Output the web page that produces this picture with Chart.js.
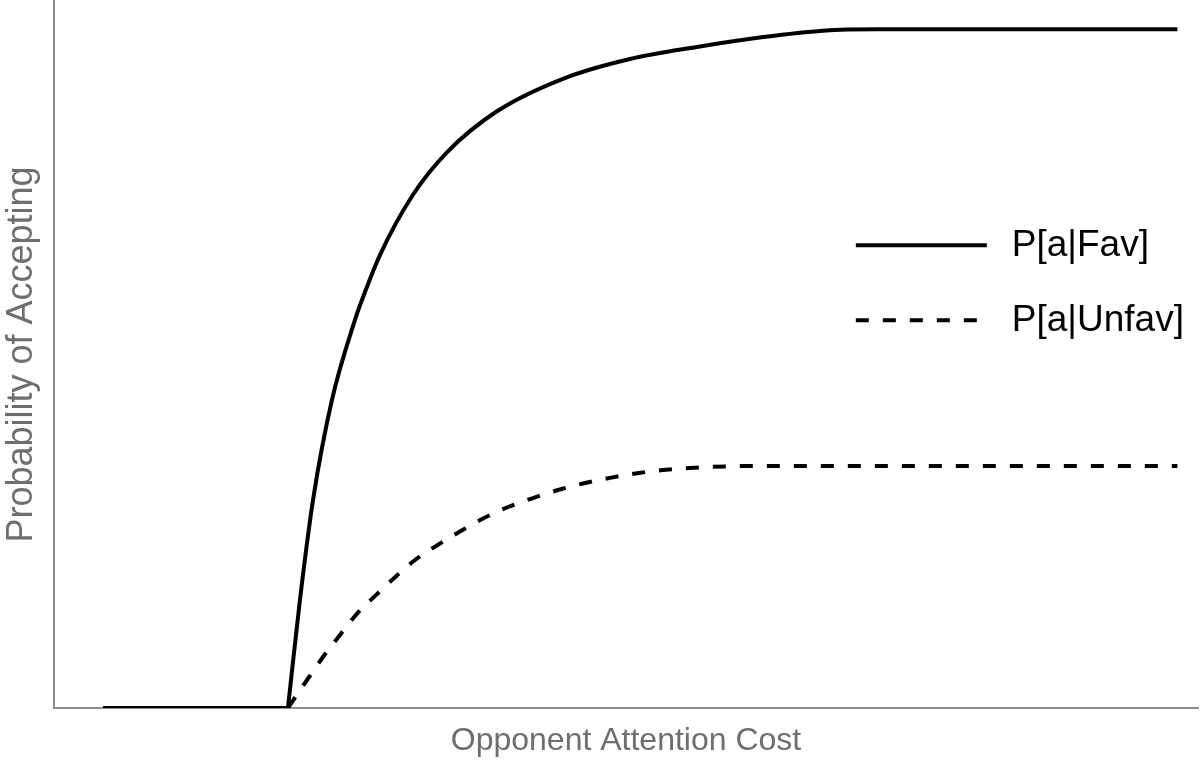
<!DOCTYPE html>
<html>
<head>
<meta charset="utf-8">
<script src="https://cdn.jsdelivr.net/npm/chart.js@4/dist/chart.umd.min.js"></script>
<style>
  html, body { margin: 0; padding: 0; background: #ffffff; }
  #wrap { width: 1200px; height: 766px; }
</style>
</head>
<body>
<div id="wrap"><canvas id="c" width="1200" height="766"></canvas></div>
<script>
// ---- data (x: opponent attention cost, y: probability, arbitrary 0-100 units) ----
const seriesNames = ['P[a|Fav]', 'P[a|Unfav]'];
const axisTitleX = 'Opponent Attention Cost';
const axisTitleY = 'Probability of Accepting';

const costFav = [4.3, 20.45, 21.5, 22.64, 24.3, 26.31, 26.92, 28.5, 31.38, 34.35, 38.72, 44.49, 50.35, 56.21, 62.0, 67.2, 72.0, 98.2];
const probFav = [0, 0, 15.3, 29.4, 43.6, 54.9, 57.7, 64.1, 72.6, 78.6, 84.4, 89.0, 91.8, 93.5, 94.9, 95.8, 96.0, 96.0];

const costUnfav = [4.3, 20.45, 22.12, 23.51, 25.0, 26.49, 28.23, 29.81, 31.56, 33.57, 35.49, 37.5, 39.69, 41.87, 44.06, 46.24, 48.6, 50.96, 53.23, 55.59, 60.84, 98.2];
const probUnfav = [0, 0, 3.96, 7.21, 10.33, 13.35, 16.1, 18.5, 20.93, 23.1, 24.95, 26.8, 28.43, 29.7, 30.83, 31.75, 32.55, 33.2, 33.66, 33.95, 34.23, 34.23];

// ---- build datasets: flat part (zero) and rising curve (smooth) ----
function toPoints(xs, ys) { return xs.map((x, i) => ({ x: x, y: ys[i] })); }
function lastZero(ys) { let k = 0; ys.forEach((v, i) => { if (v === 0) k = i; }); return k; }

const kF = lastZero(probFav), kU = lastZero(probUnfav);
const favPts = toPoints(costFav, probFav);
const unfavPts = toPoints(costUnfav, probUnfav);

const DASH = [13, 14];

const datasets = [
  { label: seriesNames[0], data: favPts.slice(kF), borderColor: '#000', borderWidth: 4,
    cubicInterpolationMode: 'monotone', pointRadius: 0, order: 1, showInLegend: true },
  { label: seriesNames[1], data: unfavPts.slice(kU), borderColor: '#000', borderWidth: 4,
    borderDash: DASH, cubicInterpolationMode: 'monotone', pointRadius: 0, order: 2, showInLegend: true },
  { label: seriesNames[1] + ' base', data: unfavPts.slice(0, kU + 1), borderColor: '#000', borderWidth: 4,
    borderDash: DASH, pointRadius: 0, order: 3, showInLegend: false },
  { label: seriesNames[0] + ' base', data: favPts.slice(0, kF + 1), borderColor: '#000', borderWidth: 4,
    pointRadius: 0, order: 0, showInLegend: false }
];

// ---- in-plot legend ----
const innerLegend = {
  id: 'innerLegend',
  afterDatasetsDraw(chart) {
    const ctx = chart.ctx;
    const ca = chart.chartArea;
    const items = chart.data.datasets.filter(d => d.showInLegend);
    const x0 = ca.left + 0.7009 * (ca.right - ca.left);
    const rows = [ca.top + 0.3455 * (ca.bottom - ca.top), ca.top + 0.4516 * (ca.bottom - ca.top)];
    const lens = [131, 121];
    ctx.save();
    items.forEach((d, i) => {
      const y = rows[i];
      ctx.beginPath();
      ctx.lineWidth = 4;
      ctx.strokeStyle = '#000';
      ctx.setLineDash(d.borderDash || []);
      ctx.moveTo(x0, y);
      ctx.lineTo(x0 + lens[i], y);
      ctx.stroke();
      ctx.setLineDash([]);
      ctx.fillStyle = '#000';
      ctx.font = '37px "Liberation Sans", Arial, sans-serif';
      ctx.textBaseline = 'middle';
      ctx.textAlign = 'left';
      ctx.fillText(d.label, x0 + 156, y + 1);
    });
    ctx.restore();
  }
};

new Chart(document.getElementById('c'), {
  type: 'line',
  data: { datasets: datasets },
  options: {
    responsive: false,
    animation: false,
    events: [],
    layout: { padding: { top: 1, right: 2, bottom: 2, left: 0 } },
    plugins: { legend: { display: false }, tooltip: { enabled: false } },
    scales: {
      x: {
        type: 'linear', min: 0, max: 100,
        grid: { display: false, drawTicks: false },
        border: { display: true, color: '#8c8c8c', width: 2 },
        ticks: { display: false },
        title: { display: true, text: axisTitleX, color: '#6e6e6e',
          font: { family: '"Liberation Sans", Arial, sans-serif', size: 32 },
          padding: { top: 13.6, bottom: 4 } }
      },
      y: {
        type: 'linear', min: 0, max: 100,
        grid: { display: false, drawTicks: false },
        border: { display: true, color: '#8c8c8c', width: 2 },
        ticks: { display: false },
        title: { display: true, text: axisTitleY, color: '#6e6e6e',
          font: { family: '"Liberation Sans", Arial, sans-serif', size: 36 },
          padding: { top: 0, bottom: 10.8 } }
      }
    }
  },
  plugins: [innerLegend]
});
</script>
</body>
</html>
